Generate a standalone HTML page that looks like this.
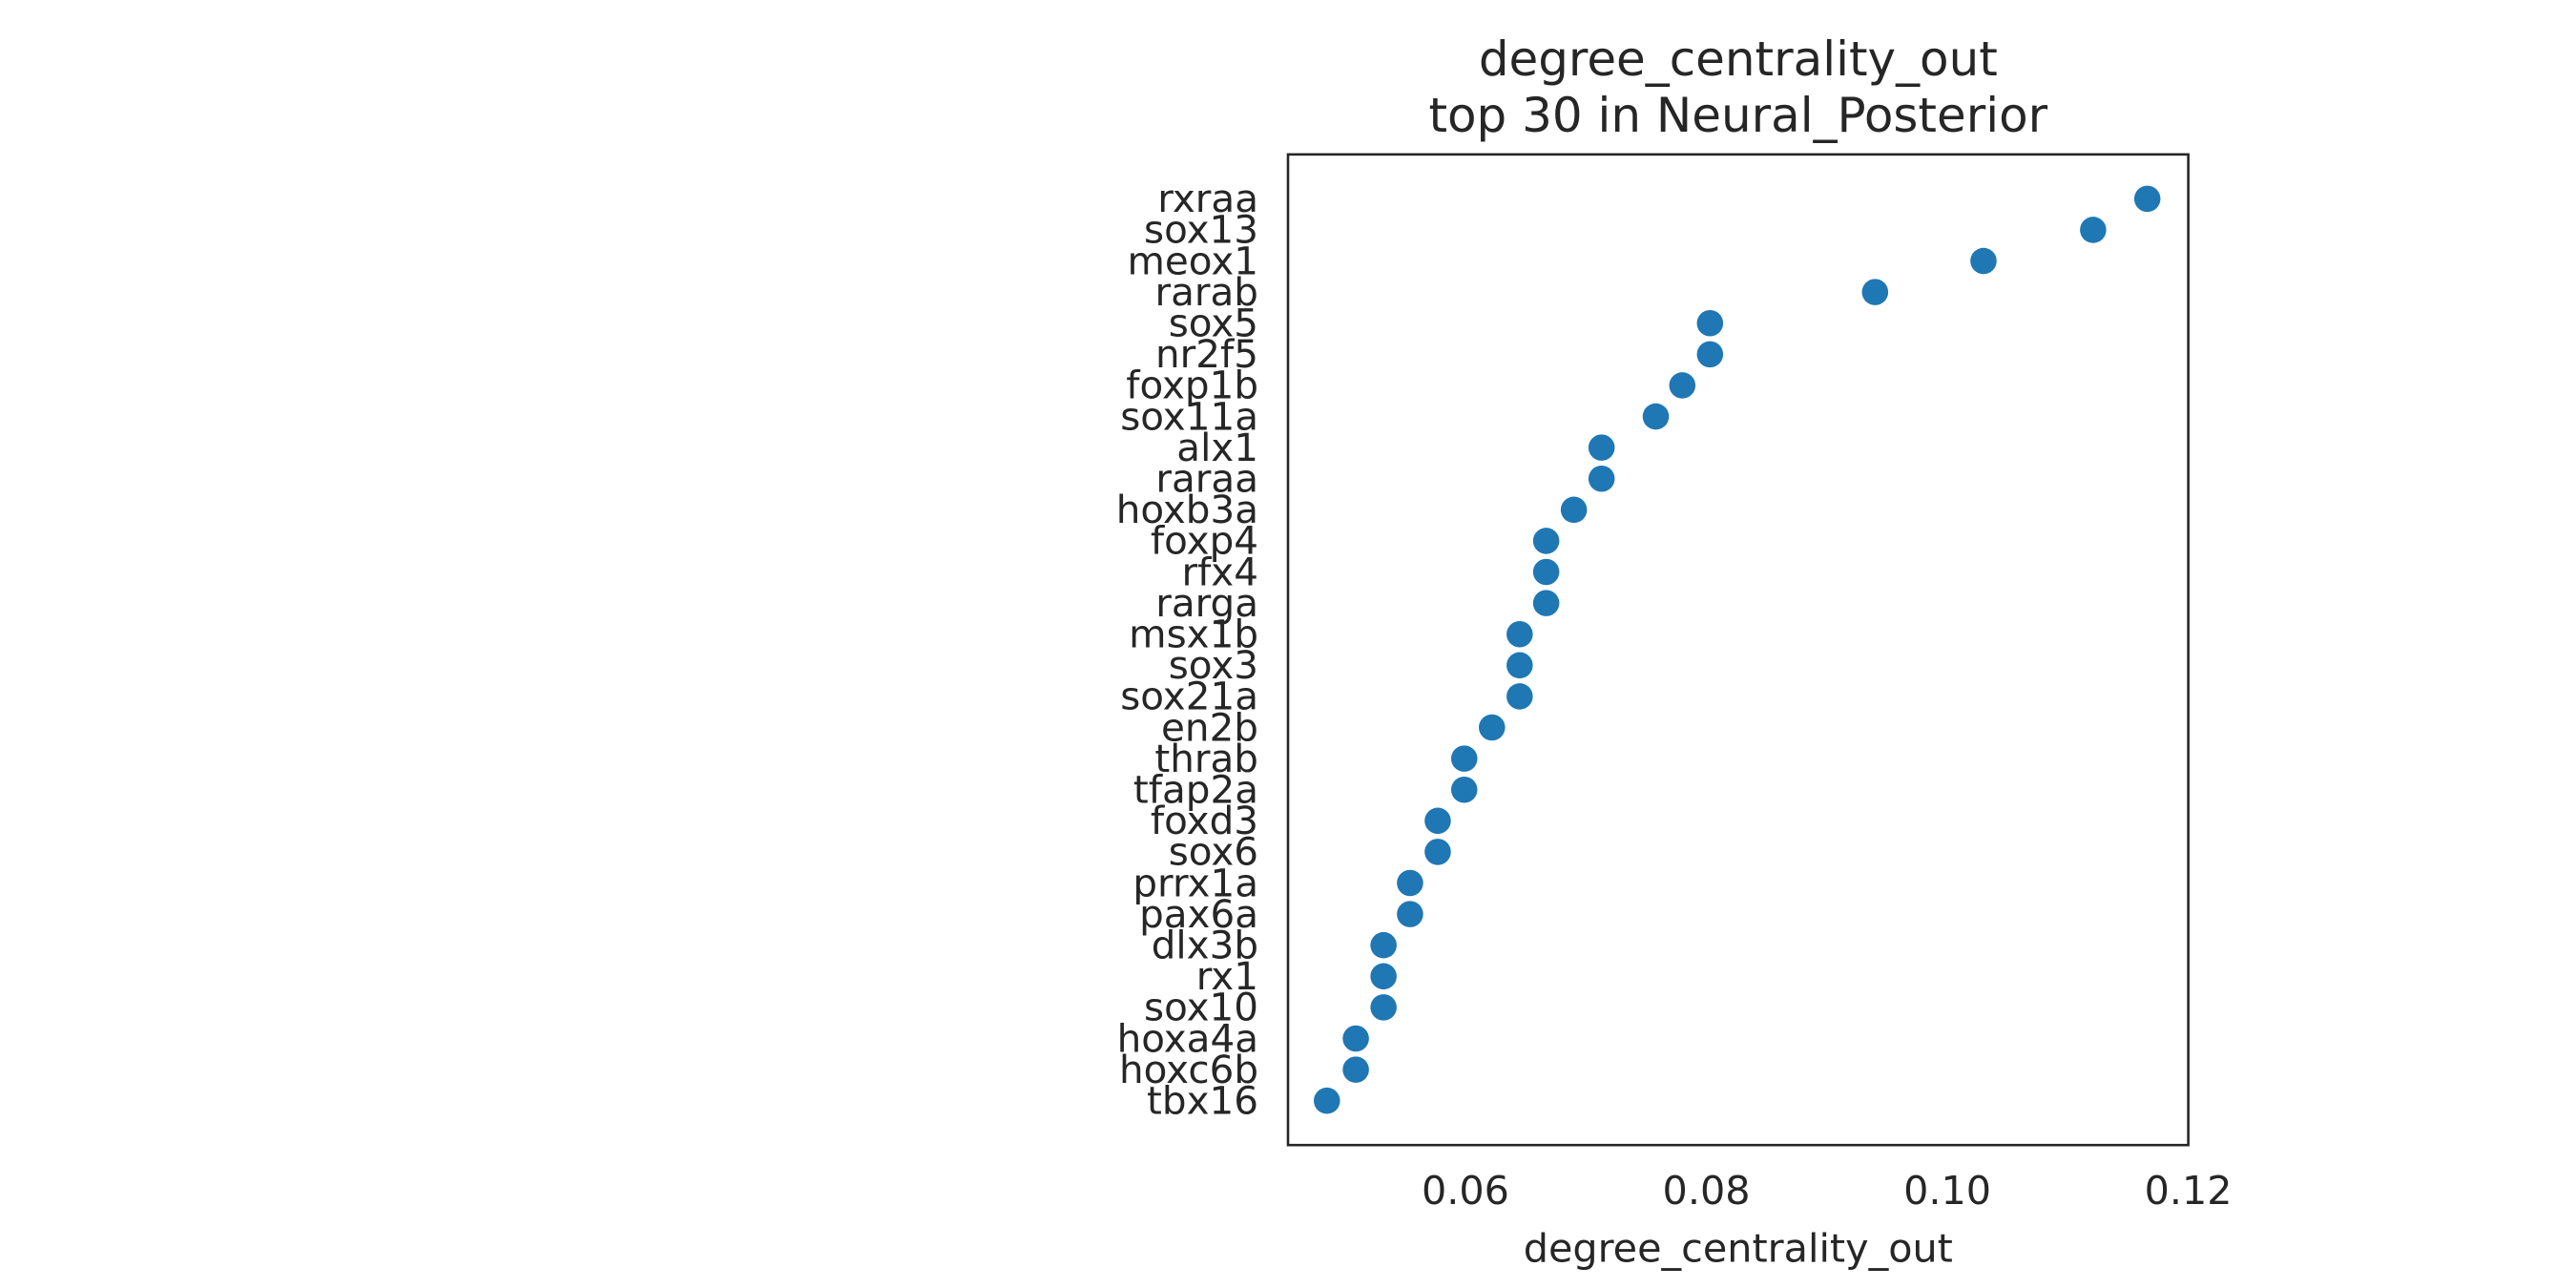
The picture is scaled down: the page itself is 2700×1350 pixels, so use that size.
<!DOCTYPE html>
<html><head><meta charset="utf-8">
<style>
html,body{margin:0;padding:0;background:#fff;}
svg{display:block;}
text{font-family:"DejaVu Sans","Liberation Sans",sans-serif;fill:#262626;}
</style></head>
<body>
<svg id="chart" width="2700" height="1350" viewBox="0 0 1568 784" xmlns="http://www.w3.org/2000/svg">
<rect x="0" y="0" width="1568" height="784" fill="#fff"/>
<text x="1058" y="46" font-size="29" text-anchor="middle">degree_centrality_out</text>
<text x="1058" y="80" font-size="29" text-anchor="middle">top 30 in Neural_Posterior</text>
<g id="marks"></g>
<rect x="784" y="94" width="548" height="603" fill="none" stroke="#262626" stroke-width="1.5"/>
<text x="1058" y="768" font-size="24" text-anchor="middle">degree_centrality_out</text>
</svg>
<script>
const categories=["rxraa","sox13","meox1","rarab","sox5","nr2f5","foxp1b","sox11a","alx1","raraa","hoxb3a","foxp4","rfx4","rarga","msx1b","sox3","sox21a","en2b","thrab","tfap2a","foxd3","sox6","prrx1a","pax6a","dlx3b","rx1","sox10","hoxa4a","hoxc6b","tbx16"];
const values=[0.1166,0.1121,0.1030,0.0940,0.0803,0.0803,0.0780,0.0758,0.0713,0.0713,0.0690,0.0667,0.0667,0.0667,0.0645,0.0645,0.0645,0.0622,0.0599,0.0599,0.0577,0.0577,0.0554,0.0554,0.0532,0.0532,0.0532,0.0509,0.0509,0.0485];
const xTicks=[0.06,0.08,0.10,0.12];
const xTickLabels=["0.06","0.08","0.10","0.12"];
const NS="http://www.w3.org/2000/svg";
const x0=784,x1=1332,xmin=0.04527,xmax=0.12;
function xScale(v){return x0+(v-xmin)/(xmax-xmin)*(x1-x0);}
function yScale(i){return 121+i*(670-121)/(categories.length-1);}
const g=document.getElementById('marks');
categories.forEach((c,i)=>{
  const t=document.createElementNS(NS,'text');
  
  
  t.setAttribute('x',766);t.setAttribute('y',yScale(i)+8);
  t.setAttribute('font-size','23.5');t.setAttribute('text-anchor','end');
  t.textContent=c;g.appendChild(t);
  const p=document.createElementNS(NS,'circle');
  
  
  p.setAttribute('cx',xScale(values[i]));p.setAttribute('cy',yScale(i));
  p.setAttribute('r',8);p.setAttribute('fill','#1f77b4');
  g.appendChild(p);
});
xTicks.forEach((v,i)=>{
  const t=document.createElementNS(NS,'text');
  
  
  t.setAttribute('x',xScale(v));t.setAttribute('y',733);
  t.setAttribute('font-size','24');t.setAttribute('text-anchor','middle');
  t.textContent=xTickLabels[i];g.appendChild(t);
});
</script>
</body></html>
